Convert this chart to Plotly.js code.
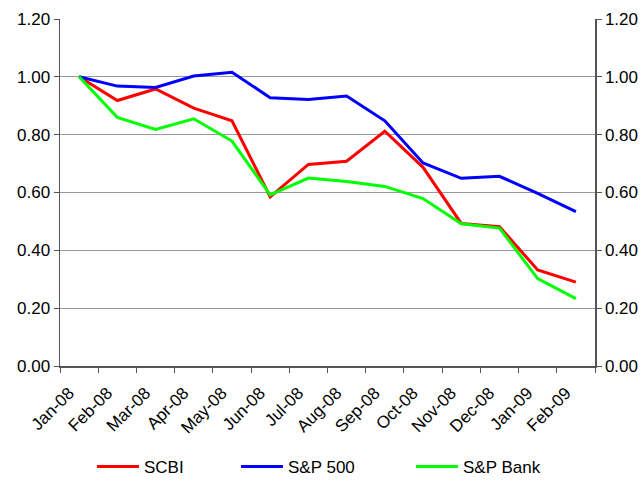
<!DOCTYPE html>
<html>
<head>
<meta charset="utf-8">
<script src="https://cdn.plot.ly/plotly-3.0.1.min.js"></script>
<style>html,body{margin:0;padding:0;background:#fff;}#chart{width:641px;height:481px;}</style>
</head>
<body>
<div id="chart"></div>
<script>
var months = ["Jan-08","Feb-08","Mar-08","Apr-08","May-08","Jun-08","Jul-08","Aug-08","Sep-08","Oct-08","Nov-08","Dec-08","Jan-09","Feb-09"];
var scbi   = [1.00,0.918,0.958,0.892,0.848,0.585,0.697,0.708,0.812,0.687,0.493,0.482,0.332,0.290];
var sp500  = [1.00,0.968,0.963,1.003,1.016,0.928,0.922,0.934,0.848,0.702,0.649,0.656,0.597,0.534];
var spbank = [1.00,0.860,0.818,0.855,0.778,0.592,0.650,0.638,0.621,0.579,0.492,0.477,0.302,0.233];
var yTicks = [0,0.2,0.4,0.6,0.8,1.0,1.2];

var FONT = {family:"Liberation Sans, Arial, sans-serif", size:17, color:"#000"};
function series(name, y, color, leg){
  return {x:months, y:y, name:name, type:"scatter", mode:"lines",
          line:{color:color, width:3}, legend:leg, hoverinfo:"skip"};
}
var traces = [
  series("SCBI", scbi, "#FF0000", "legend"),
  series("S&P 500", sp500, "#0000FF", "legend2"),
  series("S&P Bank", spbank, "#00FF00", "legend3"),
  {x:months, y:scbi, yaxis:"y2", type:"scatter", mode:"lines", line:{width:0, color:"rgba(0,0,0,0)"}, showlegend:false, hoverinfo:"skip"}
];
var yax = {range:[0,1.2], tickvals:yTicks, ticktext:yTicks.map(function(v){return v.toFixed(2);}),
  showgrid:true, gridcolor:"#999999", gridwidth:1, zeroline:false,
  showline:true, linecolor:"#555555", linewidth:1.5,
  ticks:"outside", ticklen:5, tickcolor:"#555555", tickfont:FONT, fixedrange:true};
var yax2 = JSON.parse(JSON.stringify(yax));
yax2.overlaying = "y"; yax2.side = "right"; yax2.showgrid = false;
function leg(x){
  return {orientation:"h", xref:"container", x:x, xanchor:"left",
          yref:"container", y:(481-467)/481, yanchor:"middle",
          font:FONT, itemwidth:42, bgcolor:"rgba(0,0,0,0)", borderwidth:0};
}
var layout = {
  width:641, height:481,
  margin:{l:60, r:46, t:19, b:115, pad:0},
  paper_bgcolor:"#fff", plot_bgcolor:"#fff",
  font:FONT,
  showlegend:true,
  xaxis:{type:"category", range:[-0.5,13.5], tickson:"boundaries", ticks:"outside", ticklen:5,
         tickcolor:"#555555", showline:true, linecolor:"#555555", linewidth:1.5,
         showgrid:false, tickangle:-45, tickfont:FONT, fixedrange:true, automargin:false,
         ticklabelstandoff:9, ticklabelshift:-10},
  yaxis:yax,
  yaxis2:yax2,
  legend:leg(92/641),
  legend2:leg(236/641),
  legend3:leg(411/641)
};
Plotly.newPlot("chart", traces, layout, {displayModeBar:false, staticPlot:true});
</script>
</body>
</html>
